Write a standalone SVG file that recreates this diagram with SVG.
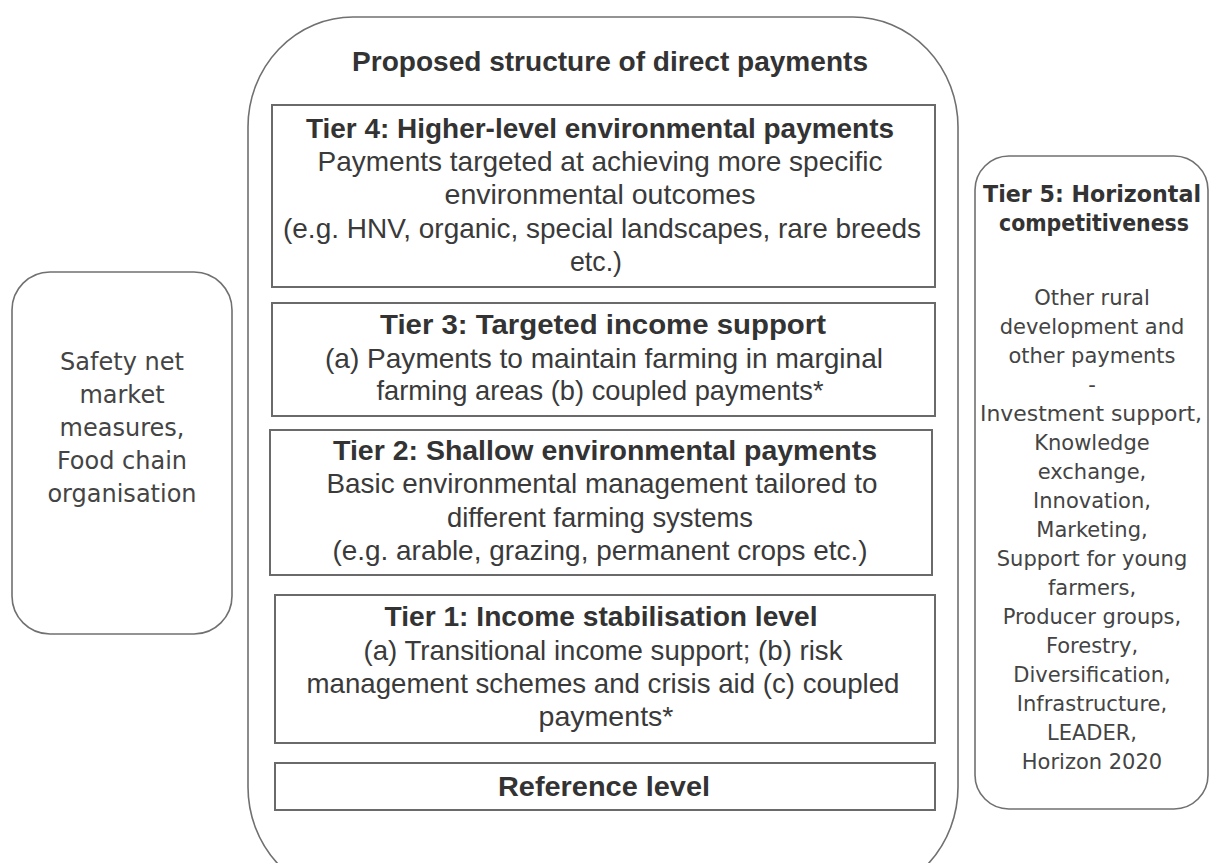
<svg xmlns="http://www.w3.org/2000/svg" width="1211" height="863" viewBox="0 0 1211 863">
<style>
  .frame{fill:none;stroke:#707070;stroke-width:1.6}
  .box{fill:#fff;stroke:#6a6a6a;stroke-width:2}
  .t{font-family:"Liberation Sans",Arial,sans-serif;font-size:28px;fill:#3a3a3a;text-anchor:middle}
  .b{font-weight:bold;fill:#333}
  .s{font-family:"DejaVu Sans",Verdana,sans-serif;font-size:24px;fill:#444;text-anchor:middle}
  .sb{font-family:"DejaVu Sans",Verdana,sans-serif;font-size:23px;font-weight:bold;fill:#333;text-anchor:middle}
  .r{font-family:"DejaVu Sans",Verdana,sans-serif;font-size:21px;fill:#444;text-anchor:middle}
</style>
<rect width="1211" height="863" fill="#fff"/>
<g id="main">
  <rect class="frame" x="248" y="17" width="710" height="880" rx="105" ry="110"/>
  <text class="t b" x="610" y="71" textLength="516" lengthAdjust="spacingAndGlyphs">Proposed structure of direct payments</text>
</g>
<g id="tier4">
  <rect class="box" x="272" y="105" width="663" height="182"/>
  <text class="t b" x="600" y="138" textLength="588" lengthAdjust="spacingAndGlyphs">Tier 4: Higher-level environmental payments</text>
  <text class="t" x="600" y="171" textLength="565" lengthAdjust="spacingAndGlyphs">Payments targeted at achieving more specific</text>
  <text class="t" x="600" y="204" textLength="311" lengthAdjust="spacingAndGlyphs">environmental outcomes</text>
  <text class="t" x="602" y="238" textLength="638" lengthAdjust="spacingAndGlyphs">(e.g. HNV,  organic, special landscapes, rare breeds</text>
  <text class="t" x="596" y="271" textLength="52" lengthAdjust="spacingAndGlyphs">etc.)</text>
</g>
<g id="tier3">
  <rect class="box" x="272" y="303" width="663" height="113"/>
  <text class="t b" x="603" y="334" textLength="446" lengthAdjust="spacingAndGlyphs">Tier 3: Targeted income support</text>
  <text class="t" x="604" y="368" textLength="558" lengthAdjust="spacingAndGlyphs">(a) Payments to maintain farming in marginal</text>
  <text class="t" x="600" y="400" textLength="447" lengthAdjust="spacingAndGlyphs">farming areas (b) coupled payments*</text>
</g>
<g id="tier2">
  <rect class="box" x="270" y="430" width="662" height="145"/>
  <text class="t b" x="605" y="460" textLength="544" lengthAdjust="spacingAndGlyphs">Tier 2: Shallow environmental payments</text>
  <text class="t" x="602" y="493" textLength="551" lengthAdjust="spacingAndGlyphs">Basic environmental management tailored to</text>
  <text class="t" x="600" y="527" textLength="306" lengthAdjust="spacingAndGlyphs">different farming systems</text>
  <text class="t" x="600" y="560" textLength="535" lengthAdjust="spacingAndGlyphs">(e.g. arable, grazing, permanent crops etc.)</text>
</g>
<g id="tier1">
  <rect class="box" x="275" y="595" width="660" height="148"/>
  <text class="t b" x="601" y="626" textLength="433" lengthAdjust="spacingAndGlyphs">Tier 1: Income stabilisation level</text>
  <text class="t" x="603" y="660" textLength="479" lengthAdjust="spacingAndGlyphs">(a) Transitional income support; (b) risk</text>
  <text class="t" x="603" y="693" textLength="593" lengthAdjust="spacingAndGlyphs">management schemes and crisis aid (c) coupled</text>
  <text class="t" x="606" y="726" textLength="135" lengthAdjust="spacingAndGlyphs">payments*</text>
</g>
<g id="reference">
  <rect class="box" x="275" y="763" width="660" height="47"/>
  <text class="t b" x="604" y="796" textLength="212" lengthAdjust="spacingAndGlyphs">Reference level</text>
</g>
<g id="safety-net">
  <rect class="frame" x="12" y="272" width="220" height="362" rx="38" ry="38"/>
  <text class="s" x="122" y="370">Safety net</text>
  <text class="s" x="122" y="403">market</text>
  <text class="s" x="122" y="436">measures,</text>
  <text class="s" x="122" y="469">Food chain</text>
  <text class="s" x="122" y="502">organisation</text>
</g>
<g id="tier5">
  <rect class="frame" x="975" y="156" width="233" height="653" rx="34" ry="34"/>
  <text class="sb" x="1092" y="202" textLength="218" lengthAdjust="spacingAndGlyphs">Tier 5: Horizontal</text>
  <text class="sb" x="1094" y="231" textLength="190" lengthAdjust="spacingAndGlyphs">competitiveness</text>
  <text class="r" x="1092" y="305">Other rural</text>
  <text class="r" x="1092" y="334">development and</text>
  <text class="r" x="1092" y="363">other payments</text>
  <text class="r" x="1092" y="392">-</text>
  <text class="r" x="1091" y="421" textLength="222" lengthAdjust="spacingAndGlyphs">Investment support,</text>
  <text class="r" x="1092" y="450">Knowledge</text>
  <text class="r" x="1092" y="479">exchange,</text>
  <text class="r" x="1092" y="508">Innovation,</text>
  <text class="r" x="1092" y="537">Marketing,</text>
  <text class="r" x="1092" y="566">Support for young</text>
  <text class="r" x="1092" y="595">farmers,</text>
  <text class="r" x="1092" y="624">Producer groups,</text>
  <text class="r" x="1092" y="653">Forestry,</text>
  <text class="r" x="1092" y="682">Diversification,</text>
  <text class="r" x="1092" y="711">Infrastructure,</text>
  <text class="r" x="1092" y="740">LEADER,</text>
  <text class="r" x="1092" y="769">Horizon 2020</text>
</g>
<g id="connectors"></g>
</svg>
